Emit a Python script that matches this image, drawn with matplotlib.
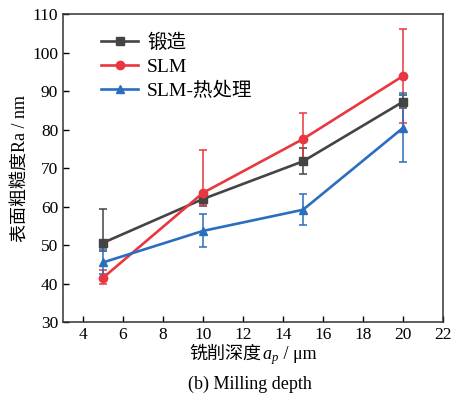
import matplotlib
matplotlib.use("Agg")
import matplotlib.pyplot as plt
from matplotlib.offsetbox import TextArea, HPacker, AnchoredOffsetbox

depth = [5, 10, 15, 20]
forged = [50.6, 62.0, 71.8, 87.3]
forged_lo = [48.5, 60.3, 68.5, 85.7]
forged_hi = [59.5, 63.8, 75.3, 89.0]
slm = [41.5, 63.6, 77.6, 94.0]
slm_lo = [39.8, 60.5, 70.8, 81.8]
slm_hi = [43.6, 74.7, 84.5, 106.3]
slm_ht = [45.5, 53.7, 59.2, 80.5]
slm_ht_lo = [42.5, 49.5, 55.2, 71.6]
slm_ht_hi = [48.9, 58.0, 63.2, 89.5]

labels = ["锻造", "SLM", "SLM-热处理"]
colors = ["#444444", "#e8373f", "#2a6ebd"]
markers = ["s", "o", "^"]
xticks = [4, 6, 8, 10, 12, 14, 16, 18, 20, 22]
yticks = [30, 40, 50, 60, 70, 80, 90, 100, 110]

serif = ["Liberation Serif", "Noto Sans CJK SC", "DejaVu Sans"]
plt.rcParams["font.family"] = serif
plt.rcParams["mathtext.fontset"] = "custom"
plt.rcParams["mathtext.it"] = "Liberation Serif:italic"
plt.rcParams["mathtext.rm"] = "Liberation Serif"

fig = plt.figure(figsize=(4.54, 3.97), dpi=100)
ax = fig.add_axes([0.1388, 0.1889, 0.8370, 0.7746])

series = [(forged, forged_lo, forged_hi), (slm, slm_lo, slm_hi), (slm_ht, slm_ht_lo, slm_ht_hi)]
handles = []
for (y, lo, hi), lab, c, m in zip(series, labels, colors, markers):
    err = [[a - b for a, b in zip(y, lo)], [b - a for a, b in zip(y, hi)]]
    cont = ax.errorbar(depth, y, yerr=err, color=c, marker=m, markersize=6, lw=1.9,
                       elinewidth=1.1, capsize=3, capthick=1.1, label=lab)
    handles.append(cont.lines[0])

ax.set_xlim(3, 22)
ax.set_ylim(30, 110)
ax.set_xticks(xticks)
ax.set_yticks(yticks)
ax.tick_params(direction="in", length=4.5, width=1, labelsize=12.5, top=False, right=False)
for s in ax.spines.values():
    s.set_linewidth(1.1)
    s.set_color("#333333")

ax.set_ylabel("表面粗糙度Ra / nm", fontsize=13, labelpad=2)

fs = 13
parts = [
    TextArea("铣削深度", textprops=dict(fontsize=fs, family=["Noto Sans CJK SC"])),
    TextArea("$a_p$", textprops=dict(fontsize=fs)),
    TextArea(" / μm", textprops=dict(fontsize=fs, family=serif)),
]
box = HPacker(children=parts, align="baseline", pad=0, sep=0)
anch = AnchoredOffsetbox(loc="upper center", child=box, pad=0, frameon=False,
                         bbox_to_anchor=(0.5, -0.075), bbox_transform=ax.transAxes,
                         borderpad=0)
ax.add_artist(anch)

fig.text(0.55, 0.02, "(b) Milling depth", ha="center", fontsize=13)

ax.legend(handles=handles, labels=labels, loc="upper left", bbox_to_anchor=(0.07, 0.975),
          frameon=False, fontsize=14, handlelength=1.9, handletextpad=0.45,
          labelspacing=0.3, borderaxespad=0.2)

fig.savefig("out.png", dpi=100)
